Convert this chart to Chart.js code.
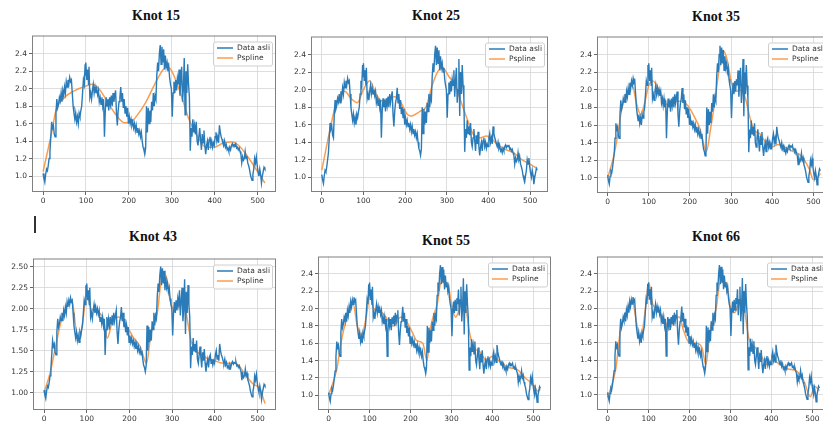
<!DOCTYPE html>
<html>
<head>
<meta charset="utf-8">
<script src="https://cdn.jsdelivr.net/npm/chart.js@4.4.0/dist/chart.umd.min.js"></script>
<style>
  html, body { margin: 0; padding: 0; background: #fff; width: 823px; height: 423px; overflow: hidden; }
  #wrap { position: relative; width: 823px; height: 423px; }
  canvas { position: absolute; }
  .title { position: absolute; transform: translate(-50%, -50%); font: bold 14px "Liberation Serif", "Times New Roman", serif; color: #111; white-space: nowrap; }
  .cursor { position: absolute; left: 34px; top: 216px; width: 1.5px; height: 17px; background: #333; }
</style>
</head>
<body>
<div id="wrap"><div class="cursor"></div></div>
<script>
// === Data asli ===
const dataX = [
  0, 2, 4, 6, 8, 10, 12, 14, 16, 18,
  20, 22, 24, 26, 28, 30, 32, 34, 36, 38,
  40, 42, 44, 46, 48, 50, 52, 54, 56, 58,
  60, 62, 64, 66, 68, 70, 72, 74, 76, 78,
  80, 82, 84, 86, 88, 90, 92, 94, 96, 98,
  99, 100, 102, 104, 106, 107, 109, 111, 113, 115,
  117, 119, 121, 123, 125, 127, 129, 131, 133, 135,
  137, 139, 141, 143, 145, 147, 149, 151, 153, 155,
  157, 159, 161, 163, 165, 167, 169, 171, 173, 175,
  177, 179, 181, 183, 185, 187, 189, 191, 193, 195,
  197, 199, 201, 203, 205, 207, 209, 211, 213, 215,
  217, 219, 221, 223, 225, 227, 229, 231, 233, 235,
  237, 239, 241, 243, 245, 247, 249, 251, 253, 255,
  257, 259, 261, 263, 265, 267, 269, 271, 273, 275,
  277, 279, 281, 283, 285, 287, 289, 291, 293, 295,
  297, 299, 301, 303, 305, 307, 309, 311, 313, 315,
  317, 319, 321, 323, 325, 327, 329, 331, 333, 335,
  337, 339, 341, 343, 345, 347, 349, 351, 353, 355,
  357, 359, 361, 363, 365, 367, 369, 371, 373, 375,
  377, 379, 381, 383, 385, 387, 389, 391, 393, 395,
  397, 399, 401, 403, 405, 407, 409, 411, 413, 415,
  417, 419, 421, 423, 425, 427, 429, 431, 433, 435,
  437, 439, 441, 443, 445, 447, 449, 451, 453, 455,
  457, 459, 461, 463, 465, 467, 469, 471, 473, 475,
  477, 479, 481, 483, 485, 487, 489, 491, 493, 495,
  497, 499, 501, 503, 505, 507, 509, 511, 513, 515, 517
];
const dataY = [
  1.03, 0.97, 0.93, 1.02, 1.08, 1.06, 1.12, 1.20, 1.28, 1.45,
  1.62, 1.55, 1.58, 1.48, 1.45, 1.72, 1.88, 1.78, 1.82, 1.90,
  1.86, 1.95, 1.85, 1.98, 1.92, 2.02, 1.95, 2.08, 2.02, 2.10,
  2.05, 2.13, 2.08, 2.10, 1.95, 1.80, 1.72, 1.65, 1.72, 1.62,
  1.68, 1.60, 1.72, 1.68, 1.75, 1.80, 1.95, 2.10, 2.05, 2.28,
  2.15, 2.30, 2.10, 2.22, 2.05, 2.25, 1.90, 1.95, 1.88, 1.98,
  2.05, 1.95, 2.02, 1.95, 2.00, 1.93, 1.98, 1.85, 1.90, 1.82,
  1.90, 1.80, 1.88, 1.45, 1.75, 1.90, 1.80, 1.88, 1.75, 1.90,
  1.82, 1.92, 1.80, 1.95, 1.85, 1.92, 1.98, 1.72, 1.58, 1.75,
  1.85, 1.90, 2.02, 1.85, 1.95, 1.78, 1.88, 1.72, 1.80, 1.68,
  1.78, 1.60, 1.68, 1.60, 1.65, 1.58, 1.62, 1.55, 1.60, 1.52,
  1.58, 1.50, 1.55, 1.48, 1.52, 1.45, 1.50, 1.40, 1.33, 1.30,
  1.25, 1.32, 1.80, 1.50, 1.78, 1.60, 1.75, 1.62, 1.85, 1.75,
  1.95, 1.80, 1.92, 1.88, 2.15, 2.30, 2.20, 2.40, 2.50, 2.28,
  2.48, 2.30, 2.45, 2.22, 2.38, 2.25, 2.30, 2.20, 2.25, 2.12,
  2.05, 2.00, 1.68, 1.95, 2.08, 1.95, 2.10, 1.98, 2.12, 2.05,
  2.22, 1.92, 2.10, 2.25, 1.85, 2.00, 2.35, 1.70, 2.20, 1.95,
  2.28, 2.05, 1.90, 1.29, 1.55, 1.45, 1.65, 1.50, 1.58, 1.48,
  1.62, 1.40, 1.35, 1.45, 1.55, 1.42, 1.30, 1.48, 1.38, 1.52,
  1.35, 1.25, 1.35, 1.40, 1.30, 1.42, 1.45, 1.35, 1.40, 1.33,
  1.38, 1.35, 1.45, 1.50, 1.40, 1.45, 1.38, 1.58, 1.50, 1.45,
  1.42, 1.38, 1.35, 1.40, 1.33, 1.36, 1.30, 1.32, 1.28, 1.33,
  1.30, 1.35, 1.37, 1.34, 1.36, 1.35, 1.37, 1.32, 1.33, 1.30,
  1.32, 1.28, 1.25, 1.15, 1.22, 1.18, 1.20, 1.28, 1.20, 1.23,
  1.15, 1.12, 1.08, 1.02, 0.98, 0.95, 1.02, 1.08, 1.20, 1.15,
  1.22, 1.12, 1.05, 1.00, 1.08, 1.02, 0.92, 1.00, 1.05, 1.10, 1.08
];

// === Hasil Pspline per jumlah knot ===
const knot15X = [0, 20, 30, 50, 75, 100, 115, 130, 150, 170, 190, 205, 220, 240, 260, 280, 290, 300, 320, 340, 360, 380, 400, 420, 440, 460, 480, 500, 517];
const knot15Y = [1.05, 1.50, 1.75, 1.90, 1.98, 2.03, 2.05, 2.00, 1.85, 1.70, 1.61, 1.62, 1.70, 1.85, 2.05, 2.22, 2.25, 2.20, 1.95, 1.65, 1.45, 1.33, 1.33, 1.38, 1.39, 1.33, 1.20, 1.05, 0.92];

const knot25X = [0, 20, 35, 55, 70, 85, 100, 115, 130, 145, 160, 175, 190, 205, 215, 235, 250, 265, 280, 290, 305, 320, 335, 350, 365, 380, 395, 405, 420, 440, 460, 480, 500, 517];
const knot25Y = [1.08, 1.55, 1.85, 1.98, 1.90, 1.85, 2.00, 2.10, 1.95, 1.87, 1.90, 1.92, 1.85, 1.72, 1.70, 1.75, 1.80, 2.05, 2.22, 2.25, 2.15, 2.05, 1.85, 1.65, 1.48, 1.45, 1.47, 1.45, 1.38, 1.32, 1.28, 1.20, 1.15, 1.10];

const knot35X = [0, 15, 25, 35, 50, 60, 70, 80, 90, 100, 110, 125, 140, 150, 165, 180, 195, 210, 225, 240, 250, 260, 270, 280, 290, 300, 310, 325, 335, 345, 355, 370, 385, 400, 415, 430, 450, 470, 490, 500, 510, 517];
const knot35Y = [1.00, 1.25, 1.50, 1.80, 2.00, 2.05, 1.85, 1.72, 1.85, 2.05, 2.10, 2.00, 1.85, 1.82, 1.87, 1.87, 1.82, 1.70, 1.55, 1.30, 1.55, 1.85, 2.20, 2.45, 2.35, 2.10, 1.98, 2.00, 1.90, 1.70, 1.55, 1.50, 1.40, 1.35, 1.38, 1.35, 1.30, 1.25, 1.10, 0.98, 1.00, 1.05];

const knot43X = [0, 15, 25, 40, 55, 65, 75, 82, 92, 100, 110, 125, 140, 148, 160, 175, 195, 210, 225, 240, 250, 265, 275, 285, 295, 305, 320, 330, 345, 355, 370, 385, 400, 420, 445, 455, 470, 490, 505, 512, 517];
const knot43Y = [1.00, 1.25, 1.50, 1.85, 2.05, 2.10, 1.75, 1.62, 1.90, 2.20, 2.00, 1.97, 1.85, 1.65, 1.85, 1.90, 1.78, 1.65, 1.55, 1.35, 1.70, 1.95, 2.35, 2.40, 2.10, 1.98, 2.05, 2.00, 1.60, 1.50, 1.45, 1.40, 1.38, 1.35, 1.35, 1.33, 1.22, 1.10, 1.05, 0.95, 0.87];

const knot55X = [0, 20, 30, 45, 60, 70, 80, 95, 100, 110, 125, 140, 150, 160, 175, 190, 205, 215, 230, 240, 250, 265, 275, 290, 300, 310, 325, 335, 345, 355, 370, 385, 400, 420, 440, 460, 480, 500, 510, 517];
const knot55Y = [1.00, 1.30, 1.60, 1.90, 2.05, 1.80, 1.70, 2.00, 2.20, 2.00, 1.97, 1.90, 1.82, 1.80, 1.90, 1.85, 1.72, 1.63, 1.60, 1.40, 1.80, 2.05, 2.30, 2.30, 2.05, 1.90, 2.05, 2.00, 1.70, 1.55, 1.50, 1.40, 1.45, 1.38, 1.32, 1.30, 1.20, 1.12, 1.05, 1.07];

const knot66X = [0, 20, 30, 45, 60, 70, 80, 95, 100, 110, 125, 140, 150, 160, 175, 185, 200, 215, 230, 240, 250, 265, 275, 290, 300, 310, 325, 335, 345, 360, 375, 390, 405, 420, 440, 460, 480, 495, 505, 517];
const knot66Y = [0.97, 1.30, 1.70, 1.95, 2.10, 1.85, 1.65, 2.10, 2.30, 2.05, 1.97, 1.85, 1.75, 1.85, 1.90, 1.75, 1.60, 1.60, 1.55, 1.35, 1.75, 2.00, 2.30, 2.30, 2.00, 1.95, 2.10, 1.95, 1.65, 1.55, 1.45, 1.35, 1.40, 1.35, 1.30, 1.28, 1.15, 0.98, 1.10, 1.05];

// tick labels
const xTicks = [0, 100, 200, 300, 400, 500];
const yTicksA = [1.0, 1.2, 1.4, 1.6, 1.8, 2.0, 2.2, 2.4];
const yTicksB = [1.00, 1.25, 1.50, 1.75, 2.00, 2.25, 2.50];

const BLUE = '#2a7bb8';
const ORANGE = 'rgba(250,140,50,0.85)';
const TICK_FONT = { family: '"DejaVu Sans", sans-serif', size: 7.5 };

// posisi tiap panel: [kiri, atas, kanan, bawah] area plot
const panels = [
  { title: 'Knot 15', sx: knot15X, sy: knot15Y, area: [32, 32, 276, 192], y: [0.817, 2.609], yt: yTicksA, dec: 1, tpos: [156, 16] },
  { title: 'Knot 25', sx: knot25X, sy: knot25Y, area: [311, 33, 548, 192], y: [0.832, 2.606], yt: yTicksA, dec: 1, tpos: [436, 16] },
  { title: 'Knot 35', sx: knot35X, sy: knot35Y, area: [597, 33, 831, 193], y: [0.828, 2.605], yt: yTicksA, dec: 1, tpos: [716, 17] },
  { title: 'Knot 43', sx: knot43X, sy: knot43Y, area: [33, 255, 276, 410], y: [0.794, 2.597], yt: yTicksB, dec: 2, tpos: [153, 237] },
  { title: 'Knot 55', sx: knot55X, sy: knot55Y, area: [318, 253, 551, 410], y: [0.831, 2.600], yt: yTicksA, dec: 1, tpos: [446, 241] },
  { title: 'Knot 66', sx: knot66X, sy: knot66Y, area: [597, 253, 830, 410], y: [0.826, 2.599], yt: yTicksA, dec: 1, tpos: [716, 237] }
];

const Y_W = 30, X_H = 22, PAD_T = 3, PAD_R = 3;

// bingkai kotak seperti matplotlib
const framePlugin = {
  id: 'frame',
  afterDatasetsDraw(chart) {
    const { ctx, chartArea: a } = chart;
    ctx.save();
    ctx.strokeStyle = '#808080';
    ctx.lineWidth = 1;
    ctx.strokeRect(a.left + 0.5, a.top + 0.5, a.right - a.left - 1, a.bottom - a.top - 1);
    ctx.restore();
  }
};

// legend di pojok kanan atas
const legendPlugin = {
  id: 'boxLegend',
  afterDraw(chart) {
    const { ctx, chartArea: a } = chart;
    const w = 59, h = 24;
    const x = a.right - 4 - w, y = a.top + 6;
    ctx.save();
    ctx.fillStyle = 'rgba(255,255,255,0.85)';
    ctx.strokeStyle = '#cfcfcf';
    ctx.lineWidth = 1;
    ctx.beginPath();
    ctx.roundRect(x + 0.5, y + 0.5, w, h, 2);
    ctx.fill();
    ctx.stroke();
    chart.data.datasets.forEach((ds, i) => {
      const ly = y + 6.5 + i * 10;
      ctx.strokeStyle = ds.borderColor;
      ctx.lineWidth = 1.5;
      ctx.beginPath();
      ctx.moveTo(x + 4, ly);
      ctx.lineTo(x + 20, ly);
      ctx.stroke();
      ctx.fillStyle = '#333';
      ctx.font = '7.5px "DejaVu Sans", sans-serif';
      ctx.textBaseline = 'middle';
      ctx.fillText(ds.label, x + 24, ly + 0.5);
    });
    ctx.restore();
  }
};

function makePanel(p) {
  const wrap = document.getElementById('wrap');
  const [L, T, R, B] = p.area;
  const cv = document.createElement('canvas');
  const w = R - L + Y_W + PAD_R;
  const h = B - T + PAD_T + X_H;
  cv.width = w; cv.height = h;
  cv.style.left = (L - Y_W) + 'px';
  cv.style.top = (T - PAD_T) + 'px';
  cv.style.width = w + 'px';
  cv.style.height = h + 'px';
  wrap.appendChild(cv);

  const title = document.createElement('div');
  title.className = 'title';
  title.textContent = p.title;
  title.style.left = p.tpos[0] + 'px';
  title.style.top = p.tpos[1] + 'px';
  wrap.appendChild(title);

  new Chart(cv.getContext('2d'), {
    type: 'line',
    data: {
      datasets: [{
        label: 'Data asli',
        data: dataX.map((x, i) => ({ x, y: dataY[i] })),
        borderColor: BLUE,
        borderWidth: 1.4,
        pointRadius: 0,
        tension: 0
      }, {
        label: 'Pspline',
        data: p.sx.map((x, i) => ({ x, y: p.sy[i] })),
        borderColor: ORANGE,
        borderWidth: 1.5,
        pointRadius: 0,
        cubicInterpolationMode: 'monotone'
      }]
    },
    options: {
      responsive: false,
      animation: false,
      devicePixelRatio: 1,
      layout: { padding: { top: PAD_T, right: PAD_R, left: 0, bottom: 0 } },
      plugins: { legend: { display: false }, tooltip: { enabled: false } },
      scales: {
        x: {
          type: 'linear',
          min: -25.85,
          max: 542.85,
          afterFit(scale) { scale.height = X_H; },
          afterBuildTicks(scale) { scale.ticks = xTicks.map(v => ({ value: v })); },
          grid: { color: '#dadada', lineWidth: 0.9, tickLength: 3, tickColor: '#555' },
          border: { display: false },
          ticks: { font: TICK_FONT, color: '#333', padding: 2, maxRotation: 0, callback: v => String(v) }
        },
        y: {
          type: 'linear',
          min: p.y[0],
          max: p.y[1],
          afterFit(scale) { scale.width = Y_W; },
          afterBuildTicks(scale) { scale.ticks = p.yt.map(v => ({ value: v })); },
          grid: { color: '#dadada', lineWidth: 0.9, tickLength: 3, tickColor: '#555' },
          border: { display: false },
          ticks: { font: TICK_FONT, color: '#333', padding: 2, callback: v => Number(v).toFixed(p.dec) }
        }
      }
    },
    plugins: [framePlugin, legendPlugin]
  });
}

panels.forEach(makePanel);
</script>
</body>
</html>
